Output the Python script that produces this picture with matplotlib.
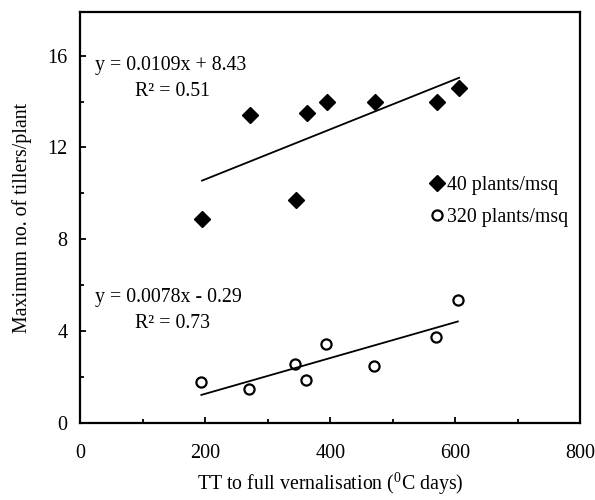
import matplotlib
matplotlib.use("Agg")
import matplotlib.pyplot as plt
import numpy as np
from matplotlib.ticker import MultipleLocator

# thermal time to full vernalisation (degC days) and max tillers/plant
tt_40 = [195, 272, 346, 363, 395, 472, 571, 606]
tillers_40 = [8.9, 13.4, 9.7, 13.5, 14.0, 14.0, 14.0, 14.6]

tt_320 = [194, 270, 344, 361, 393, 470, 569, 604]
tillers_320 = [1.8, 1.5, 2.55, 1.87, 3.43, 2.47, 3.75, 5.35]

# published regression fits (slope, intercept, r2)
fit_40 = (0.0109, 8.43, 0.51)
fit_320 = (0.0078, -0.29, 0.73)

labels = ["40 plants/msq", "320 plants/msq"]

plt.rcParams["font.family"] = ["Liberation Serif", "DejaVu Serif"]
plt.rcParams["mathtext.fontset"] = "custom"
plt.rcParams["mathtext.rm"] = "Liberation Serif"
plt.rcParams["font.size"] = 14.3


def trend(ax, x, fit):
    xs = np.array([min(x), max(x)])
    ax.plot(xs, fit[0] * xs + fit[1], color="black", lw=1.3)


def main():
    fig = plt.figure(figsize=(5.95, 5.0), dpi=100)
    ax = fig.add_axes([0.1345, 0.154, 0.841, 0.822])

    ax.plot(tt_40, tillers_40, "D", color="black", ms=8.5, label=labels[0])
    ax.plot(tt_320, tillers_320, "o", mfc="white", mec="black", mew=1.6,
            ms=7.3, label=labels[1])
    trend(ax, tt_40, fit_40)
    trend(ax, tt_320, fit_320)

    ax.text(24, 15.55, f"y = {fit_40[0]}x + {fit_40[1]}", va="center")
    ax.text(88, 14.45, f"R² = {fit_40[2]}", va="center")
    ax.text(24, 5.45, f"y = {fit_320[0]}x - {abs(fit_320[1])}", va="center")
    ax.text(88, 4.35, f"R² = {fit_320[2]}", va="center")

    ax.set_xlim(0, 800)
    ax.set_ylim(0, 17.9)
    ax.xaxis.set_major_locator(MultipleLocator(200))
    ax.xaxis.set_minor_locator(MultipleLocator(100))
    ax.yaxis.set_major_locator(MultipleLocator(4))
    ax.yaxis.set_minor_locator(MultipleLocator(2))
    ax.tick_params(which="both", direction="in", width=1.3, top=False,
                   right=False)
    ax.tick_params(which="major", length=4)
    ax.tick_params(which="minor", length=3)
    ax.tick_params(axis="both", labelsize=14.5)
    ax.tick_params(axis="x", pad=15)
    ax.tick_params(axis="y", pad=9)
    for s in ax.spines.values():
        s.set_linewidth(1.6)

    ax.set_xlabel("TT to full vernalisation ($^{0}$C days)", labelpad=5)
    ax.set_ylabel("Maximum no. of tillers/plant", labelpad=11)

    ax.legend(loc="upper left", bbox_to_anchor=(0.68, 0.625), frameon=False,
              numpoints=1, handlelength=0.7,
              handletextpad=0.15, labelspacing=0.65, borderpad=0)

    fig.savefig("out.png", dpi=100)


if __name__ == "__main__":
    main()
